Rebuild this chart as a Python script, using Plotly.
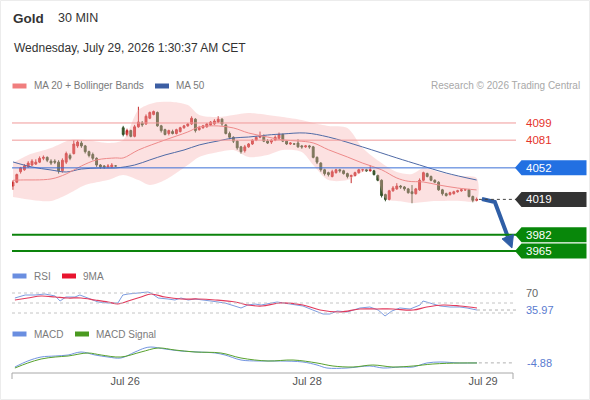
import plotly.graph_objects as go

W, H = 590, 400
def fx(px): return px / W
def fy(py): return 1 - py / H

# ---------------- data ----------------
bar_idx = list(range(0, 28)) + list(range(29, 123))

opens = [4033,4037,4048,4050,4053,4055,4056,4058,4062,4063, 4059,4059,4058,4049,4058,4065,4067,4075,4078,4075,
         4069,4066,4062,4055,4054,4053,4053,4054,
         4094,4087,4091,4085,4095,4099,4098,4104,4108,4110,
         4096,4092,4088,4090,4088,4090,4094,4096,4098,4103,
         4092,4094,4095,4097,4098,4100,4103,4097,4088,4084,
         4080,4074,4070,4074,4077,4081,4084,4085,4080,4079,
         4081,4083,4087,4080,4077,4077,4078,4075,4074,4075,
         4074,4063,4057,4050,4047,4043,4047,4050,4049,4046,
         4043,4044,4047,4050,4050,4049,4049,4044,4039,4024,
         4019,4028,4030,4033,4032,4030,4027,4025,4029,4039,
         4046,4043,4039,4037,4029,4025,4024,4025,4027,4028,
         4029,4029,4022,4018]
closes = [4037,4045,4052,4054,4057,4059,4058,4062,4063,4060, 4057,4058,4049,4060,4067,4062,4077,4079,4075,4069,
          4065,4062,4055,4053,4053,4054,4055,4054,
          4087,4091,4085,4095,4100,4097,4106,4110,4111,4096,
          4091,4087,4091,4088,4092,4094,4096,4098,4104,4091,
          4094,4096,4098,4100,4101,4103,4098,4088,4084,4080,
          4073,4069,4074,4077,4081,4084,4086,4080,4078,4081,
          4084,4087,4080,4077,4078,4077,4074,4074,4075,4074,
          4063,4058,4050,4046,4045,4048,4050,4049,4046,4043,
          4044,4047,4050,4050,4049,4050,4045,4039,4023,4019,
          4028,4031,4033,4032,4030,4026,4025,4030,4039,4047,
          4043,4039,4037,4029,4025,4023,4026,4027,4028,4029,
          4029,4022,4018,4019]
highs = [4039,4046,4053,4056,4059,4061,4061,4064,4065,4064, 4061,4061,4060,4062,4069,4067,4081,4081,4080,4076,
         4070,4068,4063,4056,4055,4056,4057,4055,
         4096,4093,4092,4097,4116,4101,4108,4111,4112,4111,
         4097,4093,4092,4092,4093,4095,4097,4099,4106,4104,
         4096,4097,4099,4101,4103,4106,4104,4098,4090,4085,
         4081,4075,4076,4078,4082,4085,4090,4087,4082,4082,
         4086,4089,4088,4081,4079,4078,4082,4076,4076,4076,
         4075,4064,4058,4051,4048,4050,4051,4051,4050,4047,
         4045,4048,4051,4051,4051,4055,4050,4045,4040,4025,
         4029,4033,4036,4034,4033,4031,4034,4031,4041,4048,
         4047,4044,4040,4038,4030,4026,4027,4028,4029,4030,
         4030,4030,4023,4021]
lows = [4029,4036,4046,4049,4052,4054,4055,4057,4060,4058, 4055,4056,4046,4047,4056,4060,4066,4073,4073,4067,
        4063,4060,4053,4051,4051,4052,4052,4053,
        4085,4085,4084,4084,4094,4095,4097,4103,4107,4095,
        4089,4086,4086,4087,4087,4089,4093,4095,4097,4089,
        4091,4093,4094,4096,4097,4099,4096,4087,4082,4078,
        4071,4067,4068,4073,4076,4080,4083,4079,4077,4077,
        4080,4082,4079,4076,4076,4076,4073,4072,4073,4072,
        4062,4056,4048,4044,4043,4042,4046,4047,4045,4041,
        4036,4043,4046,4048,4048,4048,4044,4038,4021,4017,
        4018,4027,4029,4030,4028,4025,4015,4024,4028,4038,
        4042,4038,4036,4028,4023,4022,4023,4024,4026,4027,
        4028,4021,4016,4017]

ma20_idx = [0, 2, 10, 14, 18, 22, 27, 29, 33, 40, 46, 49, 54, 58, 62, 67, 71, 75, 79, 83, 88, 92, 97, 101, 104, 108, 112, 117, 122]
ma20 = [4039, 4039.3, 4040.4, 4045.6, 4054, 4060.3, 4062.4, 4062.4, 4070.7, 4081.2, 4089.6, 4094.8, 4095.9, 4093.8,
        4088.5, 4084.3, 4081.2, 4080.2, 4078.1, 4071, 4063.4, 4057, 4050, 4041.4, 4038, 4037.2, 4034.1, 4030.9, 4028.9]

ma50_idx = [0, 5, 10, 14, 18, 23, 27, 32, 36, 40, 45, 49, 54, 58, 62, 67, 71, 77, 83, 92, 101, 107, 114, 122]
ma50 = [4058.2, 4052.9, 4049.8, 4047.7, 4050.8, 4051.9, 4051.9, 4055, 4060.3, 4065.5, 4070.7, 4076, 4080.2, 4083.3,
        4084.3, 4086.4, 4087.5, 4088.5, 4084.3, 4073.9, 4062.4, 4055, 4046.6, 4039.3]

bb_up_idx = [0, 4, 10, 15, 19, 25, 29, 33, 37, 42, 46, 49, 54, 58, 62, 67, 71, 76, 79, 83, 88, 92, 97, 101, 105, 108, 112, 117, 122]
bb_upper = [4057.1, 4065.5, 4072.8, 4081.2, 4081.2, 4078.1, 4081.2, 4112.6, 4120, 4121, 4117.8, 4107.4, 4105.3, 4107.4,
            4109.5, 4107.4, 4105.3, 4102.1, 4099, 4095.9, 4093.8, 4072.8, 4057.1, 4047.7, 4045.6, 4051.9, 4047.7, 4043.5, 4041.4]
bb_lo_idx = [0, 5, 10, 14, 19, 25, 29, 33, 36, 40, 46, 49, 54, 58, 62, 67, 71, 76, 79, 83, 88, 92, 95, 98, 102, 105, 110, 117, 122]
bb_lower = [4021.5, 4018.4, 4017.3, 4023.6, 4034.1, 4039.3, 4044.6, 4039.3, 4034.1, 4039.3, 4055, 4063.4, 4068.6, 4070.7,
            4063.4, 4065.5, 4070.7, 4068.6, 4055, 4039.3, 4039.3, 4047.7, 4049.8, 4020, 4017, 4015.2, 4017, 4017.5, 4017.5]

levels_red = [4099, 4081]
level_blue = 4052
last_price = 4019
levels_green = [3982, 3965]

forecast_idx = [123.4, 126.8, 130.2]
forecast_px = [4019.4, 4016.3, 3980.0]
arrow_head_idx = [131.3, 131.7, 128.7]
arrow_head_px = [3968.1, 3982.2, 3977.7]

rsi_idx = [0.5, 3.2, 5.8, 8.4, 11.1, 12.4, 13.9, 16.3, 17.6, 19.7, 22.4, 25, 27.6, 28.9, 30.3, 32.9, 35.5, 36.3, 38.2,
           40.8, 42.6, 44.2, 46.1, 47.9, 49.5, 52.1, 55.8, 60, 61.8, 63.7, 65.3, 69.5, 72.9, 76.3, 78.9, 81.6, 83.4,
           85.3, 87.9, 91.3, 93.9, 96.1, 97.9, 99.7, 101.8, 104.5, 107.1, 107.9, 109.7, 112.4, 115, 117.6, 119.5, 122.1]
rsi = [60, 66, 66, 68, 64, 54, 62, 62, 66, 60, 52, 50, 50, 66, 68, 70, 72, 70, 60,
       58, 56, 60, 56, 58, 56, 54, 50, 40, 46, 48, 46, 52, 48, 44, 36, 28, 28,
       34, 32, 40, 42, 36, 24, 34, 40, 38, 46, 54, 50, 44, 42, 42, 40, 35.97]
rsi_ma_idx = [0.5, 3.9, 7.4, 11.1, 14.5, 17.9, 21.6, 25, 27.6, 30.3, 33.7, 36.3, 40, 44.2, 48.7, 53.2, 58.4, 61.8, 65.5,
              70.3, 76.3, 80.8, 86.1, 91.3, 95.8, 100, 105.3, 108.9, 113.2, 117.6, 122.1]
rsi_ma = [56, 60, 64, 62, 60, 60, 56, 52, 48, 54, 62, 68, 62, 58, 58, 56, 52, 46, 44,
          50, 46, 36, 32, 38, 38, 38, 36, 42, 46, 44, 40]
rsi_levels = [70, 50, 30]

macd_idx = [0.5, 3.9, 7.4, 11.1, 14.5, 17.9, 21.6, 25, 28.4, 32.1, 34.7, 36.3, 40, 44.2, 48.7, 53.2, 55.8, 60, 64.5,
            70.3, 76.3, 80, 82.6, 87.9, 93.9, 97.4, 101.8, 105.3, 108.9, 112.4, 117.6, 122.1]
macd = [-9, -3, 1, 2, 3, 6, 3, 1, 0, 6, 10, 11, 9, 7, 6, 5, 3, -2, -3,
        -3, -4, -7, -10, -10, -8, -10, -9, -9, -5, -4, -5, -4.88]
sig_idx = [0.5, 3.9, 7.4, 11.1, 14.5, 19.7, 23.2, 28.4, 33.7, 38.2, 42.6, 47.9, 54.7, 60, 67.1, 73.7, 80, 84.2, 89.5,
           94.7, 100, 105.3, 110.5, 117.6, 122.1]
macd_signal = [-10, -5, -1, 1, 2, 5, 3, 1, 6, 10, 8, 6, 5, 0, -3, -2, -5, -8, -9,
               -7, -9, -8, -6, -5, -5]

tick_pos = [29.5, 77.4, 123.7]
tick_text = ["Jul 26", "Jul 28", "Jul 29"]

# ---------------- figure ----------------
X_RANGE = [(12 - 13) / 3.8, (516 - 13) / 3.8]
PX_RANGE = [3950.3, 4128.3]
FONT = "Liberation Sans, Arial, sans-serif"

fig = go.Figure()

fig.add_trace(go.Scatter(
    x=bb_up_idx + bb_lo_idx[::-1], y=bb_upper + bb_lower[::-1],
    mode="lines", fill="toself", fillcolor="rgba(248,176,176,0.38)",
    line=dict(width=0, shape="spline", smoothing=0.8), hoverinfo="skip"))
fig.add_trace(go.Scatter(x=ma50_idx, y=ma50, mode="lines",
                         line=dict(color="#4f6aa6", width=1, shape="spline"), hoverinfo="skip"))
fig.add_trace(go.Scatter(x=ma20_idx, y=ma20, mode="lines",
                         line=dict(color="#ee8a8a", width=1, shape="spline"), hoverinfo="skip"))
fig.add_trace(go.Candlestick(
    x=bar_idx, open=opens, high=highs, low=lows, close=closes,
    increasing=dict(line=dict(color="#c42a2a", width=1), fillcolor="#d63232"),
    decreasing=dict(line=dict(color="#35522a", width=1), fillcolor="#3c5a2c"),
    whiskerwidth=0))
fig.add_trace(go.Scatter(x=forecast_idx, y=forecast_px, mode="lines",
                         line=dict(color="#2f5ea6", width=4), hoverinfo="skip"))

# RSI panel
fig.add_trace(go.Scatter(x=rsi_idx, y=rsi, mode="lines", line=dict(color="#7d9ce0", width=1),
                         xaxis="x2", yaxis="y2", hoverinfo="skip"))
fig.add_trace(go.Scatter(x=rsi_ma_idx, y=rsi_ma, mode="lines", line=dict(color="#e23a5c", width=1.2, shape="spline"),
                         xaxis="x2", yaxis="y2", hoverinfo="skip"))
# MACD panel
fig.add_trace(go.Scatter(x=macd_idx, y=macd, mode="lines", line=dict(color="#7194e0", width=1, shape="spline"),
                         xaxis="x3", yaxis="y3", hoverinfo="skip"))
fig.add_trace(go.Scatter(x=sig_idx, y=macd_signal, mode="lines", line=dict(color="#58a22e", width=1, shape="spline"),
                         xaxis="x3", yaxis="y3", hoverinfo="skip"))

shapes = []
ann = []

# level lines
for lv in levels_red:
    shapes.append(dict(type="line", xref="paper", yref="y", x0=fx(12), x1=fx(516), y0=lv, y1=lv,
                       line=dict(color="#f09a9a", width=1)))
    ann.append(dict(x=fx(524), y=lv, xref="paper", yref="y", text=str(lv), showarrow=False,
                    xanchor="left", yanchor="middle", font=dict(size=11.5, color="#e5332b")))
shapes.append(dict(type="line", xref="paper", yref="y", x0=fx(12), x1=fx(516), y0=level_blue, y1=level_blue,
                   line=dict(color="#3a6fd6", width=1)))
for lv in levels_green:
    shapes.append(dict(type="line", xref="paper", yref="y", x0=fx(12), x1=fx(516), y0=lv, y1=lv,
                       line=dict(color="#0c830c", width=2)))
shapes.append(dict(type="line", xref="x", yref="y", x0=bar_idx[-1] + 0.6, x1=X_RANGE[1], y0=last_price, y1=last_price,
                   line=dict(color="#444", width=1, dash="dot")))

# label boxes
HB = 7.5 / 0.955
def box(lv, color, text):
    xl, xb, xr = fx(515), fx(521.5), fx(586.5)
    path = f"M {xl},{lv} L {xb},{lv + HB} L {xr},{lv + HB} L {xr},{lv - HB} L {xb},{lv - HB} Z"
    shapes.append(dict(type="path", xref="paper", yref="y", path=path, fillcolor=color, line=dict(width=0)))
    ann.append(dict(x=fx(524), y=lv, xref="paper", yref="y", text=text, showarrow=False,
                    xanchor="left", yanchor="middle", font=dict(size=11.5, color="white")))
box(level_blue, "#2270e2", str(level_blue))
box(last_price, "#333333", str(last_price))
for lv in levels_green:
    box(lv, "#08870a", str(lv))

# forecast arrow head
shapes.append(dict(type="path", xref="x", yref="y",
                   path=f"M {arrow_head_idx[0]},{arrow_head_px[0]} L {arrow_head_idx[1]},{arrow_head_px[1]} "
                        f"L {arrow_head_idx[2]},{arrow_head_px[2]} Z",
                   fillcolor="#2f5ea6", line=dict(color="#2f5ea6", width=1)))

# RSI levels
for lv in rsi_levels:
    shapes.append(dict(type="line", xref="paper", yref="y2", x0=fx(12), x1=fx(516), y0=lv, y1=lv,
                       line=dict(color="#c4c4c4", width=1, dash="dot")))
shapes.append(dict(type="line", xref="x2", yref="y2", x0=rsi_idx[-1], x1=X_RANGE[1], y0=rsi[-1], y1=rsi[-1],
                   line=dict(color="#b0b0b0", width=1, dash="dot")))
ann.append(dict(x=fx(524), y=70, xref="paper", yref="y2", text="70", showarrow=False,
                xanchor="left", yanchor="middle", font=dict(size=11, color="#666")))
ann.append(dict(x=fx(524), y=rsi[-1], xref="paper", yref="y2", text=f"{rsi[-1]:.2f}", showarrow=False,
                xanchor="left", yanchor="middle", font=dict(size=11, color="#5a7bd0")))

# MACD current
shapes.append(dict(type="line", xref="x3", yref="y3", x0=macd_idx[-1] + 0.5, x1=X_RANGE[1] - 0.8, y0=macd[-1], y1=macd[-1],
                   line=dict(color="#b0b0b0", width=1, dash="dot")))
ann.append(dict(x=fx(525), y=macd[-1], xref="paper", yref="y3", text=f"{macd[-1]:.2f}", showarrow=False,
                xanchor="left", yanchor="middle", font=dict(size=11, color="#5a7bd0")))

# bottom axis line with end ticks
shapes.append(dict(type="line", xref="paper", yref="paper", x0=fx(12), x1=fx(513), y0=fy(373), y1=fy(373),
                   line=dict(color="#a8a8a8", width=1)))
for xe in (12, 513):
    shapes.append(dict(type="line", xref="paper", yref="paper", x0=fx(xe), x1=fx(xe), y0=fy(373), y1=fy(379),
                       line=dict(color="#a8a8a8", width=1)))

# outer border
shapes.append(dict(type="rect", xref="paper", yref="paper", x0=fx(0.5), x1=fx(589.5), y0=fy(399.5), y1=fy(0.5),
                   line=dict(color="#ececec", width=1)))

# header texts
ann.append(dict(x=fx(11), y=fy(18), xref="paper", yref="paper", text="<b>Gold</b>", showarrow=False,
                xanchor="left", yanchor="middle", font=dict(size=13.5, color="#333")))
ann.append(dict(x=fx(56), y=fy(18), xref="paper", yref="paper", text="30 MIN", showarrow=False,
                xanchor="left", yanchor="middle", font=dict(size=12.5, color="#333")))
ann.append(dict(x=fx(12), y=fy(48), xref="paper", yref="paper", text="Wednesday, July 29, 2026 1:30:37 AM CET",
                showarrow=False, xanchor="left", yanchor="middle", font=dict(size=12, color="#333")))
ann.append(dict(x=fx(582), y=fy(86), xref="paper", yref="paper", text="Research © 2026 Trading Central",
                showarrow=False, xanchor="right", yanchor="middle", font=dict(size=10, color="#a8a8a8")))

# legends
def legend_item(x_sw, x_txt, ymid, color, text):
    shapes.append(dict(type="rect", xref="paper", yref="paper", x0=fx(x_sw), x1=fx(x_sw + 14),
                       y0=fy(ymid + 2.5), y1=fy(ymid - 2.5), fillcolor=color, line=dict(width=0)))
    ann.append(dict(x=fx(x_txt - 1), y=fy(ymid), xref="paper", yref="paper", text=text, showarrow=False,
                    xanchor="left", yanchor="middle", font=dict(size=10, color="#7a7a7a")))

legend_item(12.5, 33, 86, "#f07e7e", "MA 20 + Bollinger Bands")
legend_item(155, 175, 86, "#3c5ea3", "MA 50")
legend_item(12.5, 33, 276, "#6a8ee0", "RSI")
legend_item(62, 82, 276, "#e8142e", "9MA")
legend_item(12.5, 33, 334, "#6a8ee0", "MACD")
legend_item(75, 95, 334, "#4a9a20", "MACD Signal")

fig.update_layout(
    width=W, height=H, margin=dict(l=0, r=0, t=0, b=0),
    paper_bgcolor="white", plot_bgcolor="rgba(0,0,0,0)", showlegend=False,
    font=dict(family=FONT),
    xaxis=dict(domain=[fx(12), fx(516)], range=X_RANGE, visible=False, anchor="y",
               rangeslider=dict(visible=False), fixedrange=True),
    yaxis=dict(domain=[fy(265), fy(95)], range=PX_RANGE, visible=False, anchor="x"),
    xaxis2=dict(domain=[fx(12), fx(516)], range=X_RANGE, visible=False, anchor="y2"),
    yaxis2=dict(domain=[fy(318), fy(286)], range=[20, 84], visible=False, anchor="x2"),
    xaxis3=dict(domain=[fx(12), fx(516)], range=X_RANGE, anchor="y3", showline=False, showgrid=False,
                zeroline=False, tickvals=tick_pos, ticktext=tick_text, ticks="",
                tickfont=dict(size=11, color="#555", family=FONT)),
    yaxis3=dict(domain=[fy(373), fy(343)], range=[-15, 15], visible=False, anchor="x3"),
    shapes=shapes, annotations=ann,
)

fig.write_html("out.html")
